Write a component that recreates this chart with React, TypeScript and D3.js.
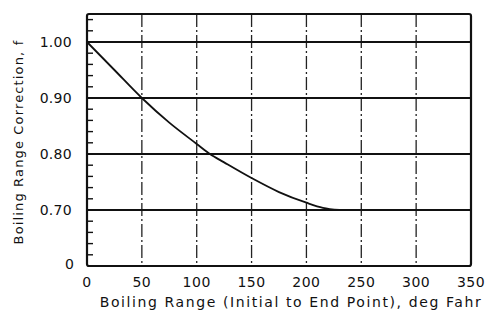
import * as d3 from 'd3'

// Boiling range correction curve
const rangeF = [0, 25, 50, 75, 100, 112, 125, 150, 175, 200, 215, 230]
const correction = [1.0, 0.95, 0.9, 0.856, 0.818, 0.8, 0.785, 0.757, 0.732, 0.713, 0.704, 0.7]

const xTicks = [0, 50, 100, 150, 200, 250, 300, 350]
const xGrid = [50, 100, 150, 200, 250, 300]
const yGrid = [0.7, 0.8, 0.9, 1.0]
const yTickLabels = ['0.70', '0.80', '0.90', '1.00']
const yMinor = d3.range(0.62, 1.05, 0.02)

const width = 490
const height = 316
const margin = { top: 14, right: 19, bottom: 50, left: 87 }

export default function App() {
  const x = d3.scaleLinear().domain([0, 350]).range([margin.left, width - margin.right])
  // broken axis: the bottom edge is labelled 0, it stands for 0.60
  const y = d3.scaleLinear().domain([0.6, 1.05]).range([height - margin.bottom, margin.top])

  const line = d3.line<number>()
    .x((d, i) => x(rangeF[i]))
    .y(d => y(d))
    .curve(d3.curveMonotoneX)

  const font = '"DejaVu Sans", sans-serif'
  const ink = '#111'

  return (
    <svg width={width} height={height} style={{ position: 'absolute', left: 0, top: 0, background: '#fff' }}>
      {/* vertical dash-dot grid */}
      {xGrid.map(v => (
        <line key={v} x1={x(v)} x2={x(v)} y1={y(1.05)} y2={y(0.6)}
          stroke="#222" strokeWidth={1.3} strokeDasharray="13 3 2 3" />
      ))}
      {/* horizontal grid */}
      {yGrid.map(v => (
        <line key={v} x1={x(0)} x2={x(350)} y1={y(v)} y2={y(v)} stroke={ink} strokeWidth={1.8} />
      ))}
      {/* minor ticks on left edge */}
      {yMinor.map(v => (
        <line key={v} x1={x(0)} x2={x(0) + 6} y1={y(v)} y2={y(v)} stroke={ink} strokeWidth={1.4} />
      ))}
      {/* frame */}
      <rect x={x(0)} y={y(1.05)} width={x(350) - x(0)} height={y(0.6) - y(1.05)}
        fill="none" stroke={ink} strokeWidth={2.2} rx={2} />
      {/* curve */}
      <path d={line(correction) || ''} fill="none" stroke={ink} strokeWidth={1.8} />

      {/* y tick labels */}
      {yGrid.map((v, i) => (
        <text key={v} x={x(0) - 15} y={y(v)} dy="0.35em" textAnchor="end"
          fontFamily={font} fontSize={14} letterSpacing={0.3} fill={ink}>{yTickLabels[i]}</text>
      ))}
      <text x={x(0) - 13} y={y(0.6)} dy="0.2em" textAnchor="end"
        fontFamily={font} fontSize={14} fill={ink}>0</text>

      {/* x tick labels */}
      {xTicks.map(v => (
        <text key={v} x={x(v)} y={height - margin.bottom + 21} textAnchor="middle"
          fontFamily={font} fontSize={14} letterSpacing={0.5} fill={ink}>{v}</text>
      ))}

      <text x={291} y={307} textAnchor="middle" fontFamily={font} fontSize={14} fill={ink}
        letterSpacing={1.6}>
        Boiling Range (Initial to End Point), deg Fahr
      </text>
      <text transform={`translate(23,${142}) rotate(-90)`} textAnchor="middle"
        fontFamily={font} fontSize={13} fill={ink} letterSpacing={1.15}>
        Boiling Range Correction, f
      </text>
    </svg>
  )
}
